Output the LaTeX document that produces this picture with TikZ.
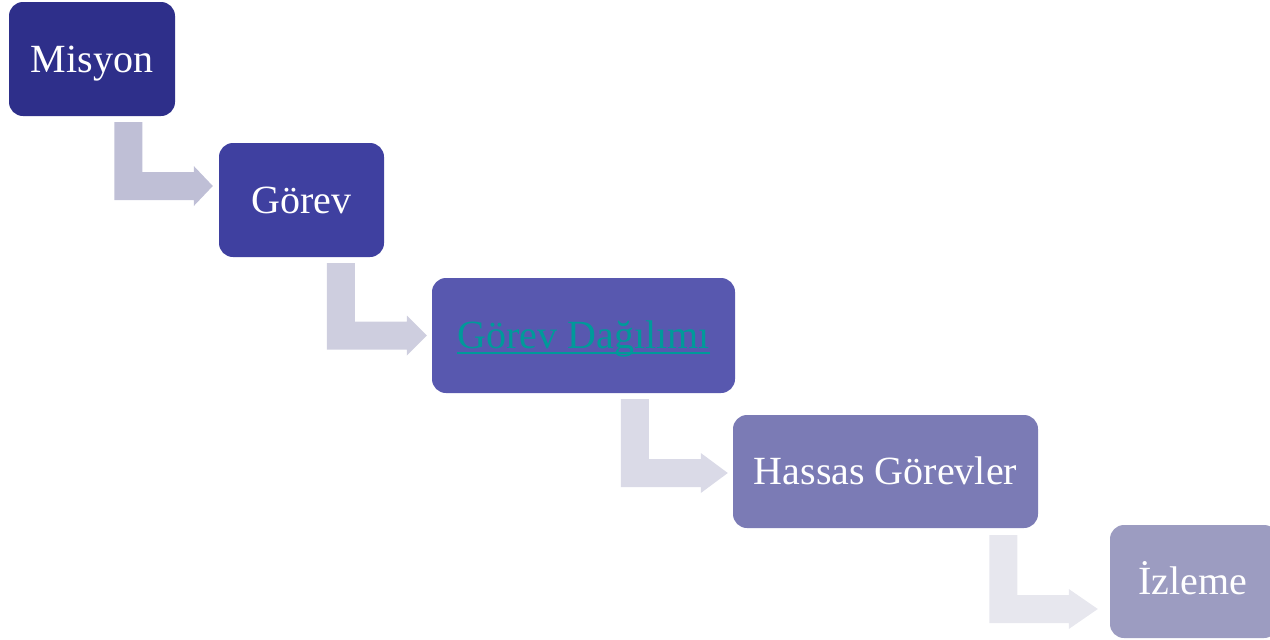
\documentclass[tikz,border=0pt]{standalone}
\usepackage{fontspec}
\setmainfont{Liberation Serif}
\usetikzlibrary{calc}

\definecolor{stepA}{HTML}{2E2F8A}
\definecolor{stepB}{HTML}{3F40A0}
\definecolor{stepC}{HTML}{5858AF}
\definecolor{stepD}{HTML}{7B7BB5}
\definecolor{stepE}{HTML}{9C9CC1}
\definecolor{flowA}{HTML}{BFBFD6}
\definecolor{flowB}{HTML}{CECEDF}
\definecolor{flowC}{HTML}{DADAE7}
\definecolor{flowD}{HTML}{E7E7EE}
\definecolor{linkteal}{HTML}{009A9A}

% underlined text with the rule just below the baseline
\newcommand\linktext[1]{\setbox0\hbox{#1}\rlap{\rule[-5pt]{\wd0}{1.8pt}}\box0}

% bent (down, then right) block arrow: colour, start of shaft, tip, head length
\newcommand\bentarrow[4]{%
  \fill[#1] let \p1=(#2), \p2=(#3) in
    (\x1-14pt,\y1) -- (\x1+14pt,\y1) -- (\x1+14pt,\y2+14pt)
    -- (\x2-#4,\y2+14pt) -- (\x2-#4,\y2+20pt) -- (\x2,\y2)
    -- (\x2-#4,\y2-20pt) -- (\x2-#4,\y2-14pt) -- (\x1-14pt,\y2-14pt) -- cycle;}

\begin{document}
\begin{tikzpicture}[x=1pt,y=-1pt,
  steptext/.style={inner sep=0pt, text=white,
    font=\fontsize{40}{46}\selectfont, text height=26.5pt, text depth=0pt},
  stepbox/.style={steptext, rounded corners=14pt, minimum height=114pt}]
\useasboundingbox (0,0) rectangle (1270,640);

\node[stepbox, fill=stepA, minimum width=166pt] (m1) at (92,59) {Misyon};
\node[stepbox, fill=stepB, minimum width=165pt] (m2) at (301.5,200) {Görev};
\node[stepbox, fill=stepC, minimum width=303pt, minimum height=115pt, text=linkteal]
  (m3) at (583.5,335.5) {\linktext{Görev Dağılımı}};
\node[stepbox, fill=stepD, minimum width=305pt, minimum height=113pt] (m4) at (885.5,471.5) {Hassas Görevler};
\node[stepbox, fill=stepE, minimum width=168pt, minimum height=113pt] (m5) at (1194,581.5) {};
\node[steptext] (m5t) at (1193,581.5) {İzleme};

% connectors between the steps
\coordinate (a1s) at ([xshift=119.5pt,yshift=-6pt]m1.south west);
\coordinate (a1e) at ([xshift=-6pt,yshift=14pt]m2.west);
\coordinate (a2s) at ([xshift=122pt,yshift=-6pt]m2.south west);
\coordinate (a2e) at ([xshift=-5pt]m3.west);
\coordinate (a3s) at ([xshift=203pt,yshift=-6pt]m3.south west);
\coordinate (a3e) at ([xshift=-5pt,yshift=-1.5pt]m4.west);
\coordinate (a4s) at ([xshift=270.5pt,yshift=-7pt]m4.south west);
\coordinate (a4e) at ([xshift=-12pt,yshift=-27.5pt]m5.west);

\bentarrow{flowA}{a1s}{a1e}{19pt}
\bentarrow{flowB}{a2s}{a2e}{20pt}
\bentarrow{flowC}{a3s}{a3e}{27pt}
\bentarrow{flowD}{a4s}{a4e}{29pt}
\end{tikzpicture}
\end{document}
